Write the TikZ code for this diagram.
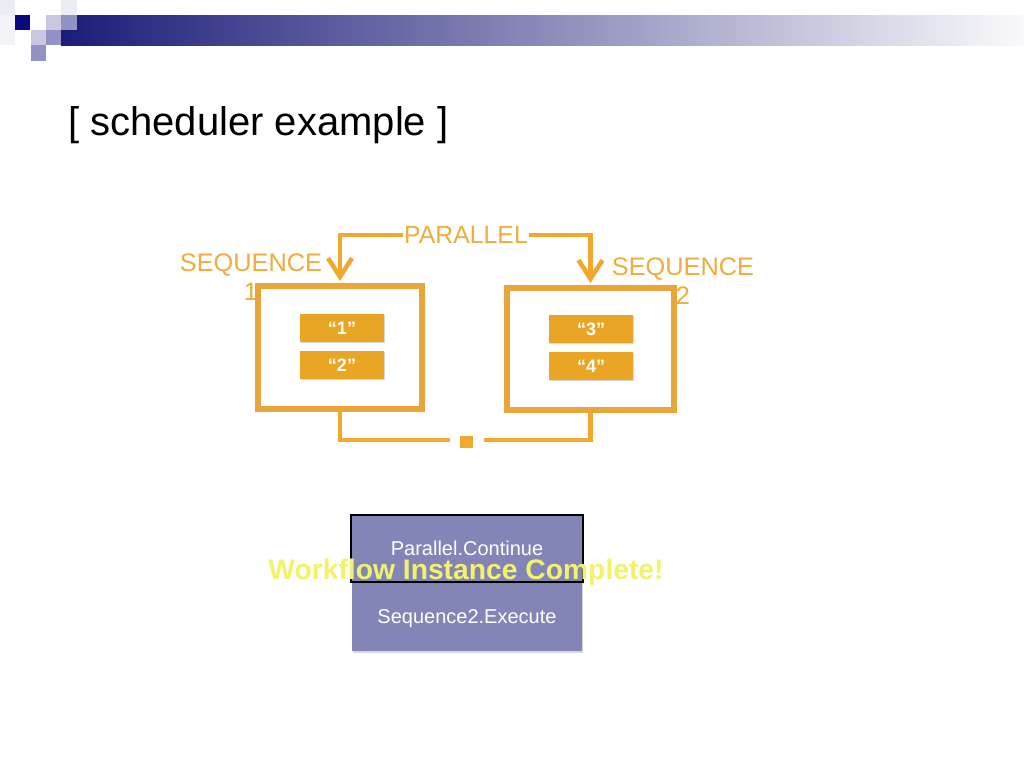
\documentclass[tikz,border=0pt]{standalone}
\usepackage{fontspec}
\setmainfont{Liberation Sans}
\usetikzlibrary{arrows.meta,shadows,calc}
\definecolor{navy}{HTML}{0A0A7E}
\definecolor{barl}{HTML}{1C1C78}
\definecolor{barr}{HTML}{FAFAFC}
\definecolor{sqlight}{HTML}{C8C8E0}
\definecolor{sqmed}{HTML}{9292C6}
\definecolor{sqfaint}{HTML}{ECECF4}
\definecolor{orline}{HTML}{F0A82E}
\definecolor{orbox}{HTML}{E8A63A}
\definecolor{orfill}{HTML}{E9A624}
\definecolor{ortext}{HTML}{F0AC3E}
\definecolor{purp}{HTML}{8385B6}
\definecolor{yel}{HTML}{F2F26C}
\tikzset{
  conn/.style={draw=orline, line width=3.4pt},
  tipconn/.style={conn, -{Straight Barb[length=14pt,width=18pt]}},
  seqbox/.style={draw=orbox, line width=4.5pt, fill=white,
    drop shadow={opacity=0.35, shadow xshift=1.2pt, shadow yshift=-1.2pt}},
  item/.style={fill=orfill, text=white, font=\fontsize{13.5}{16}\selectfont\bfseries,
    minimum width=63pt, minimum height=21pt, inner sep=0pt,
    drop shadow={opacity=0.3, shadow xshift=1pt, shadow yshift=-1pt}},
  lbl/.style={text=ortext, inner sep=1pt},
  pbox/.style={fill=purp, text=white, font=\fontsize{15}{18}\selectfont, inner sep=0pt,
    drop shadow={opacity=0.3, shadow xshift=1pt, shadow yshift=-1.2pt}},
}
\begin{document}
\begin{tikzpicture}[x=0.75pt, y=-0.75pt]
\useasboundingbox (0,0) rectangle (1024,768);
\fill[white] (0,0) rectangle (1024,768);
% header
\shade[left color=barl, right color=barr] (61,15) rectangle (1024,45);
\fill[sqfaint] (0,0) rectangle (15,15);
\fill[sqfaint!70!white] (0,15) rectangle (15,45);
\fill[sqfaint] (61,0) rectangle (77,15);
\fill[navy] (15,15) rectangle (30,30);
\fill[sqlight] (46,15) rectangle (61,30);
\fill[sqmed] (61,15) rectangle (77,30);
\fill[sqlight] (31,30) rectangle (46,45);
\fill[sqmed] (46,30) rectangle (61,45);
\fill[sqmed] (31,45) rectangle (46,61);
% title
\node[anchor=base west, inner sep=0pt, font=\fontsize{30}{36}\selectfont] (title) at (68,135) {[ scheduler example ]};
% labels
\node[lbl, font=\fontsize{18.6}{22}\selectfont] (par) at (466,235) {PARALLEL};
\node[lbl, align=center, font=\fontsize{19}{21.75}\selectfont] (s1l) at (251,277) {SEQUENCE\\1};
\node[lbl, align=center, font=\fontsize{19}{21.75}\selectfont] (s2l) at (683,281) {SEQUENCE\\2};
% boxes
\node[seqbox, minimum width=123pt, minimum height=92.25pt] (b1) at (340,347.5) {};
\node[seqbox, minimum width=125.25pt, minimum height=91.5pt] (b2) at (590.5,349) {};
\node[item] (i1) at (342,328) {“1”};
\node[item] (i2) at (342,365) {“2”};
\node[item] (i3) at (591,329) {“3”};
\node[item] (i4) at (591,366) {“4”};
% connectors
\draw[tipconn] (par.west) -| ($(b1.north)+(0,-2)$);
\draw[tipconn] (par.east) -| ($(b2.north)+(0,-2)$);
\node[fill=orline, minimum size=9.5pt, inner sep=0pt] (join) at (466.5,442) {};
\coordinate (jl) at (450,440);
\coordinate (jr) at (484,440);
\draw[conn] (b1.south) |- (jl);
\draw[conn] (jr) -| (b2.south);
% purple boxes
\node[pbox, minimum width=172.5pt, minimum height=51.75pt] (seq2) at (467,616.5) {};
\node[text=white, font=\fontsize{15}{18}\selectfont] (seqt) at (467,619) {Sequence2.Execute};
\node[pbox, draw=black, line width=1.1pt, minimum width=174pt, minimum height=50.25pt] (pc) at (467,548.5) {};
\node[text=white, font=\fontsize{15}{18}\selectfont] (pct) at (467,548) {Parallel.Continue};
\node[text=yel, font=\fontsize{21.2}{25}\selectfont\bfseries] (wf) at (466,572) {Workflow Instance Complete!};
\end{tikzpicture}
\end{document}
